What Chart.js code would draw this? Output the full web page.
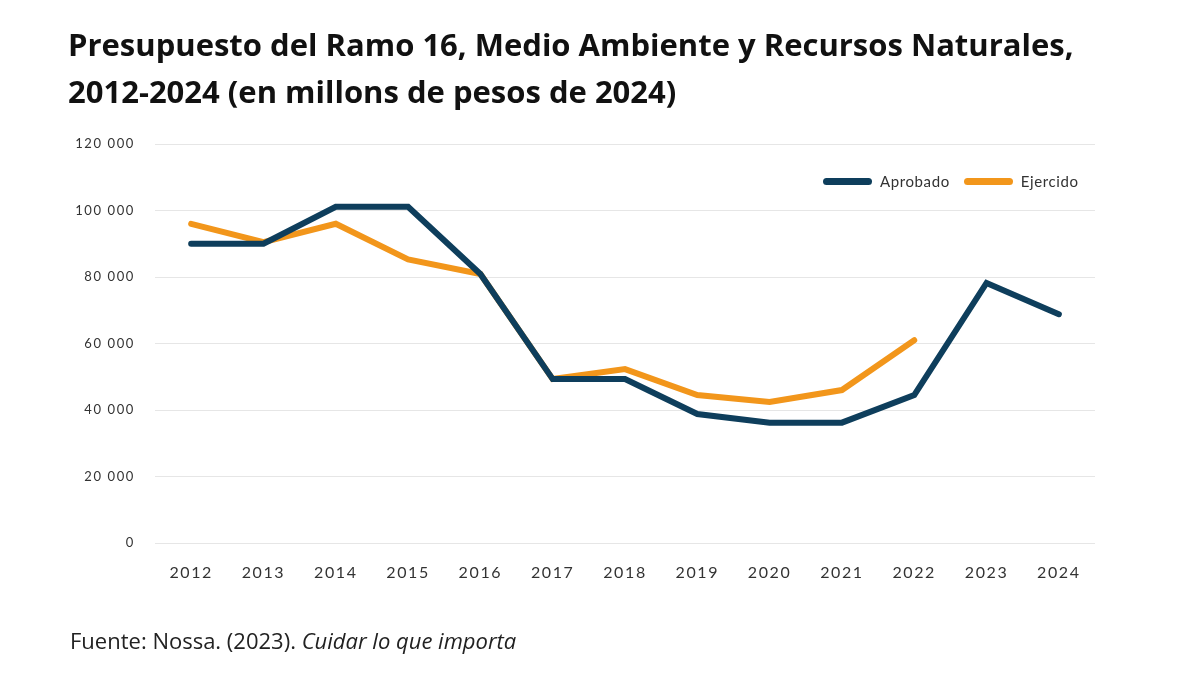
<!DOCTYPE html>
<html>
<head>
<meta charset="utf-8">
<script src="https://cdn.jsdelivr.net/npm/chart.js@4"></script>
<style>
  body { margin: 0; width: 1200px; height: 675px; background: #fff; position: relative; overflow: hidden; font-family: Lato, sans-serif; }
  #chartBox { position: absolute; left: 0; top: 0; width: 1200px; height: 675px; }
  #titulo { position: absolute; left: 68px; top: 21px; font-family: "Open Sans", sans-serif; font-weight: 700; font-size: 31px; line-height: 47px; color: #111; }
  #fuente { position: absolute; left: 70px; top: 625px; font-family: "Open Sans", sans-serif; font-size: 22px; color: #222; }
  #leyenda { position: absolute; left: 823px; top: 172px; display: flex; align-items: center; font-size: 15px; letter-spacing: 0.6px; color: #333; }
  #leyenda .item { display: flex; align-items: center; margin-right: 14px; }
  #leyenda .muestra { width: 49px; height: 7px; border-radius: 4px; margin-right: 8px; }
</style>
</head>
<body>
<div id="chartBox"><canvas id="myChart"></canvas></div>
<div id="titulo">Presupuesto del Ramo 16, Medio Ambiente y Recursos Naturales,<br>2012-2024 (en millons de pesos de 2024)</div>
<div id="leyenda"></div>
<div id="fuente">Fuente: Nossa. (2023). <i>Cuidar lo que importa</i></div>
<script>
//*** Datos
const anios = ["2012", "2013", "2014", "2015", "2016", "2017", "2018", "2019", "2020", "2021", "2022", "2023", "2024"];
const aprobado = [90000, 90000, 101100, 101100, 80900, 49300, 49300, 38800, 36200, 36200, 44500, 78200, 68800];
const ejercido = [96000, 90500, 96000, 85300, 80900, 49300, 52300, 44500, 42400, 46000, 61000, null, null];
const series = ["Aprobado", "Ejercido"];
const colores = ["#0e3e5c", "#f2961b"];

const miles = (v) => String(v).replace(/\B(?=(\d{3})+(?!\d))/g, " ");

//*** Leyenda
series.forEach((s, i) => {
  document.getElementById("leyenda").insertAdjacentHTML("beforeend", `
    <div class="item"><div class="muestra" style="background:${colores[i]}"></div>${s}</div>
  `);
});

// espaciado de letras en los ticks
const espaciado = {
  id: "espaciado",
  beforeDraw: (chart) => { chart.ctx.letterSpacing = "1.6px"; },
};

//*** Chart
const config = {
  type: "line",
  data: {
    labels: anios,
    datasets: [aprobado, ejercido].map((d, i) => ({
      label: series[i],
      data: d,
      borderColor: colores[i],
      backgroundColor: colores[i],
      borderWidth: 6,
      pointRadius: 0,
      tension: 0,
      borderCapStyle: "round",
      borderJoinStyle: "miter",
      order: i == 0 ? 1 : 2,
    })),
  },
  options: {
    responsive: true,
    maintainAspectRatio: false,
    animation: false,
    layout: { padding: { left: 60, right: 105, top: 144, bottom: 72 } },
    plugins: { legend: { display: false }, title: { display: false }, tooltip: { enabled: false } },
    scales: {
      x: {
        offset: true,
        grid: { display: false, drawTicks: false },
        border: { display: false },
        ticks: { color: "#333", padding: 20, font: { family: "Lato", size: 16 } },
        afterFit: (s) => { s.height = 60; },
      },
      y: {
        min: 0,
        max: 120000,
        grid: { color: "#e6e6e6", lineWidth: 1, drawTicks: false },
        border: { display: false },
        ticks: { stepSize: 20000, color: "#333", padding: 20, font: { family: "Lato", size: 13 }, callback: (v) => miles(v) },
        afterFit: (s) => { s.width = 95; },
      },
    },
  },
  plugins: [espaciado],
};

var myChart = new Chart(document.getElementById("myChart"), config);
</script>
</body>
</html>
